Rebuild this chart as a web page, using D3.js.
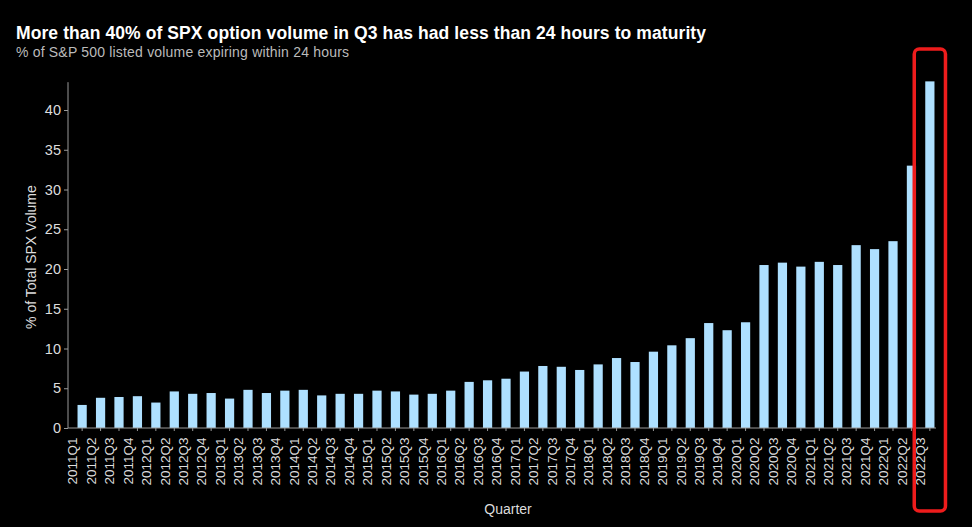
<!DOCTYPE html>
<html><head><meta charset="utf-8">
<script src="https://cdn.jsdelivr.net/npm/d3@7"></script>
<style>body{margin:0;background:#000}svg{display:block}</style>
</head><body><svg id="c" width="972" height="527"></svg>
<script>
const years = d3.range(2011, 2023);
const quarters = [];
years.forEach(y => [1,2,3,4].forEach(q => { if (!(y===2022 && q===4)) quarters.push(y+"Q"+q); }));
const values = [2.9,3.8,3.9,4.0, 3.2,4.6,4.3,4.4, 3.7,4.8,4.4,4.7, 4.8,4.1,4.3,4.3,
  4.7,4.6,4.2,4.3, 4.7,5.8,6.0,6.2, 7.1,7.8,7.7,7.3, 8.0,8.8,8.3,9.6,
  10.4,11.3,13.2,12.3, 13.3,20.5,20.8,20.3, 20.9,20.5,23.0,22.5, 23.5,33.0,43.6];
const yTicks = [0,5,10,15,20,25,30,35,40];
const svg = d3.select("#c");
const m = {l:68, r:24, t:60, b:99};
const W = 972, H = 527;
const x = d3.scaleBand().domain(quarters).range([m.l+4, W-m.r-8]).paddingInner(0.5).paddingOuter(0.3);
const y = d3.scaleLinear().domain([0,40]).range([H-m.b, 110]);
const font = "Liberation Sans, Arial, sans-serif";
svg.append("text").attr("x",16).attr("y",39).attr("fill","#fff").attr("font-family",font)
  .attr("font-size",17.5).attr("font-weight","bold").attr("textLength",690).text("More than 40% of SPX option volume in Q3 has had less than 24 hours to maturity");
svg.append("text").attr("x",16).attr("y",57).attr("fill","#bbb").attr("font-family",font)
  .attr("font-size",14).attr("textLength",333).text("% of S&P 500 listed volume expiring within 24 hours");
svg.selectAll("rect.bar").data(values).join("rect").attr("class","bar")
  .attr("x",(d,i)=>x(quarters[i])).attr("width",x.bandwidth())
  .attr("y",d=>y(d)).attr("height",d=>y(0)-y(d)).attr("fill","#aee0ff");
const ya = svg.append("g").attr("transform",`translate(${m.l},0)`)
  .call(d3.axisLeft(y).tickValues(yTicks).tickSize(4).tickSizeOuter(0));
ya.select(".domain").attr("stroke","#999").attr("d",`M0,${y(0)}V${y(43.5)}`);
ya.selectAll("line").attr("stroke","#999");
ya.selectAll("text").attr("fill","#ddd").attr("font-size",14.5).attr("font-family",font);
const xa = svg.append("g").attr("transform",`translate(0,${y(0)})`)
  .call(d3.axisBottom(x).tickSize(3).tickSizeOuter(0));
xa.select(".domain").attr("stroke","#999").attr("d",`M${m.l},0H${W-m.r-12}`);
xa.selectAll("line").attr("stroke","#999");
xa.selectAll("text").attr("fill","#ddd").attr("font-size",13.5).attr("font-family",font)
  .attr("transform","rotate(-90)").attr("text-anchor","end").attr("dx","-0.4em").attr("dy","-0.35em").attr("y",0).attr("x",-4);
svg.append("text").attr("x",(m.l+W-m.r)/2).attr("y",514).attr("text-anchor","middle")
  .attr("fill","#ddd").attr("font-family",font).attr("font-size",14).text("Quarter");
svg.append("text").attr("transform",`translate(36,${(y(0)+y(43))/2}) rotate(-90)`).attr("text-anchor","middle")
  .attr("fill","#ddd").attr("font-family",font).attr("font-size",14).text("% of Total SPX Volume");
const last = quarters[quarters.length-1];
svg.append("rect").attr("x",x(last)-11).attr("y",49).attr("width",x.bandwidth()+22).attr("height",462)
  .attr("rx",5).attr("fill","none").attr("stroke","#ee1c1c").attr("stroke-width",3.5);
</script></body></html>
